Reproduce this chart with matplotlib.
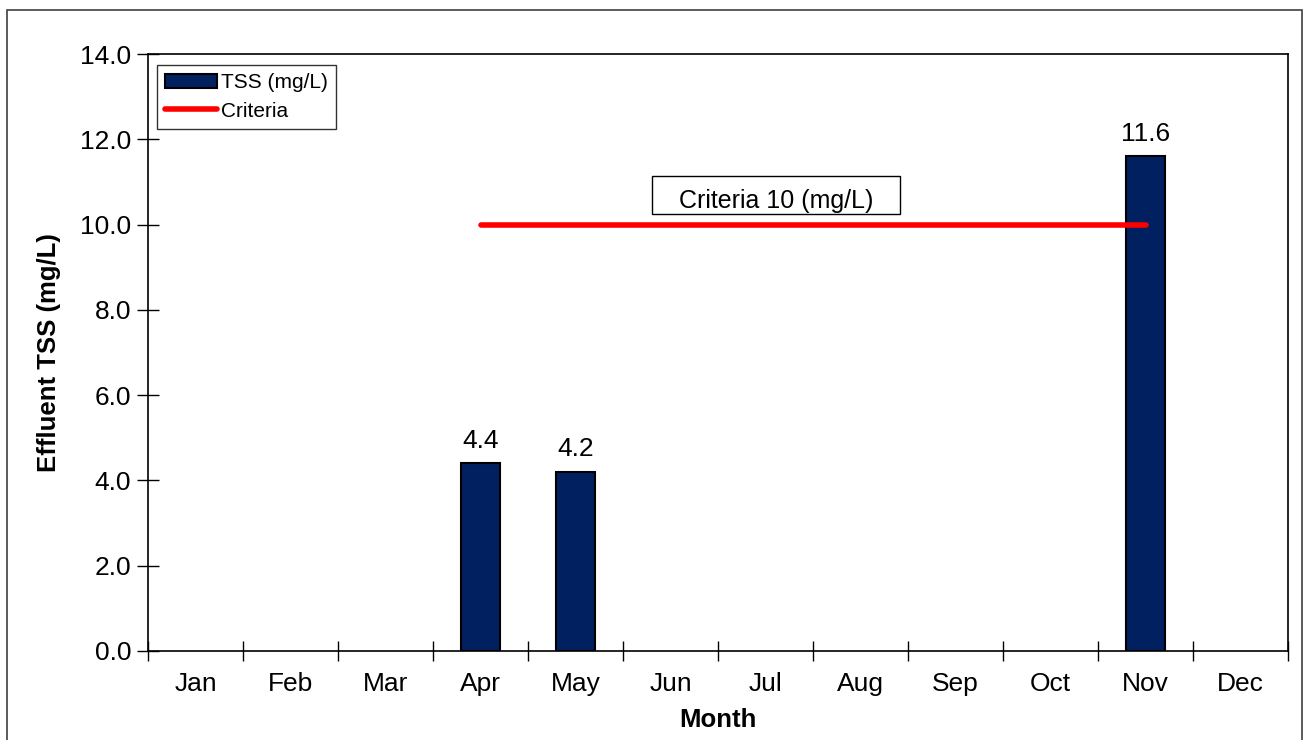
import numpy as np
import matplotlib.pyplot as plt
from matplotlib.patches import Rectangle

plt.rcParams['font.family'] = ['Liberation Sans', 'DejaVu Sans']

months = ["Jan", "Feb", "Mar", "Apr", "May", "Jun", "Jul", "Aug", "Sep", "Oct", "Nov", "Dec"]
tss = [np.nan, np.nan, np.nan, 4.4, 4.2, np.nan, np.nan, np.nan, np.nan, np.nan, 11.6, np.nan]
criteria = [np.nan, np.nan, np.nan, 10, 10, 10, 10, 10, 10, 10, 10, np.nan]

fig = plt.figure(figsize=(13.11, 7.40), dpi=100)
ax = fig.add_axes([148/1311, 1 - 651/740, 1140/1311, 597/740])

# outer chart border
fig.patches.append(Rectangle((7/1311, -0.05), 1295/1311, 1.05 - 10/740, transform=fig.transFigure,
                             fill=False, edgecolor="#404040", linewidth=1.2))

x = np.arange(len(months))
bars = ax.bar(x, tss, width=0.41, color="#002060", edgecolor="black", linewidth=1.5,
              label="TSS (mg/L)", zorder=2)
line, = ax.plot(x, criteria, color="#ff0000", linewidth=4, solid_capstyle="round",
                label="Criteria", zorder=3)

for xi, v in zip(x, tss):
    if not np.isnan(v):
        ax.text(xi, v + 0.25, f"{v:.1f}", ha="center", va="bottom", fontsize=19)

# criteria call-out box
ax.add_patch(Rectangle((4.805, 10.24), 2.61, 0.89, facecolor="white", edgecolor="black",
                       linewidth=1, zorder=4))
ax.text(6.11, 10.55, "Criteria 10 (mg/L)", ha="center", va="center", fontsize=18, zorder=5)

ax.set_xlim(-0.5, 11.5)
ax.set_ylim(0, 14)
ax.set_yticks(np.arange(0, 14.1, 2))
ax.set_yticklabels([f"{v:.1f}" for v in np.arange(0, 14.1, 2)])
ax.set_xticks(np.arange(-0.5, 12, 1))
ax.set_xticklabels([])
ax.set_xticks(x, minor=True)
ax.set_xticklabels(months, minor=True)
ax.tick_params(axis="y", direction="inout", length=16, width=1, labelsize=19, pad=4)
ax.tick_params(axis="x", which="major", direction="inout", length=15, width=1)
ax.tick_params(axis="x", which="minor", length=0, labelsize=19, pad=15)

for s in ax.spines.values():
    s.set_linewidth(1.2)

ax.set_ylabel("Effluent TSS (mg/L)", fontsize=18.5, fontweight="bold", labelpad=14)
ax.set_xlabel("Month", fontsize=18.5, fontweight="bold", labelpad=9)

leg = ax.legend([bars, line], ["TSS (mg/L)", "Criteria"], loc="upper left",
                bbox_to_anchor=(9/1140, 1 - 11/597), borderaxespad=0, fontsize=15,
                frameon=True, fancybox=False, edgecolor="black", handlelength=2.5,
                handletextpad=0.15, borderpad=0.4, labelspacing=0.45)
leg.get_frame().set_linewidth(1)

fig.savefig("out.png", dpi=100)
